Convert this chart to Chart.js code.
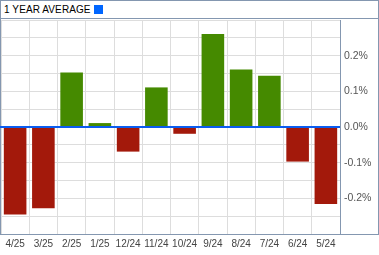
<!DOCTYPE html>
<html>
<head>
<meta charset="utf-8">
<script src="https://cdn.jsdelivr.net/npm/chart.js@4/dist/chart.umd.min.js"></script>
<style>
  body { margin: 0; background: #fff; }
  #wrap { position: relative; width: 379px; height: 255px; font-family: "Liberation Sans", Arial, sans-serif; }
  #box { position: absolute; left: 0; top: 0; width: 377px; height: 233px; border: 1px solid #8497b0; box-sizing: content-box; }
  #head { position: absolute; left: 0; top: 0; width: 379px; height: 19px; border-bottom: 1px solid #8497b0; box-sizing: border-box; }
  #title { position: absolute; left: 4px; top: 4px; font-size: 10px; color: #000; white-space: nowrap; letter-spacing: 0.1px; }
  #title span { display: inline-block; width: 9px; height: 9px; background: #0066ff; margin-left: 3px; vertical-align: -1px; }
  canvas { position: absolute; left: 0; top: 0; }
</style>
</head>
<body>
<div id="wrap">
  <div id="box"></div>
  <div id="head"><div id="title">1 YEAR AVERAGE<span></span></div></div>
  <canvas id="myChart" width="379" height="255"></canvas>
</div>
<script>
// monthly values, percent
const months = ["4/25", "3/25", "2/25", "1/25", "12/24", "11/24", "10/24", "9/24", "8/24", "7/24", "6/24", "5/24"];
const averages = [-0.245, -0.228, 0.153, 0.011, -0.069, 0.111, -0.019, 0.261, 0.161, 0.144, -0.097, -0.216];
const barColors = averages.map(v => v >= 0 ? "#458a00" : "#a3190b");

const zeroLine = {
  id: "zeroLine",
  afterDatasetsDraw(chart) {
    const y = chart.scales.y.getPixelForValue(0);
    const ctx = chart.ctx;
    ctx.save();
    ctx.strokeStyle = "#0a5cf0";
    ctx.lineWidth = 2;
    ctx.beginPath();
    ctx.moveTo(chart.chartArea.left - 1, y);
    ctx.lineTo(chart.chartArea.right, y);
    ctx.stroke();
    ctx.restore();
  }
};

new Chart(document.getElementById("myChart"), {
  type: "bar",
  data: {
    labels: months,
    datasets: [
      {
        data: averages,
        backgroundColor: barColors,
        barPercentage: 0.8,
        categoryPercentage: 1
      }
    ]
  },
  options: {
    responsive: false,
    animation: false,
    layout: { padding: { top: 20, left: 1 } },
    plugins: { legend: { display: false }, tooltip: { enabled: false } },
    scales: {
      x: {
        grid: { color: "#dddddd", offset: true, drawTicks: false },
        border: { color: "#8497b0" },
        ticks: { color: "#444", font: { family: "Liberation Sans", size: 10 }, padding: 4, maxRotation: 0, autoSkip: false },
        afterFit(s) { s.height = 21; }
      },
      y: {
        position: "right",
        min: -0.3,
        max: 0.3,
        grid: { color: "#dddddd", drawTicks: false },
        border: { color: "#8497b0" },
        ticks: {
          stepSize: 0.05,
          color: "#555",
          font: { family: "Liberation Sans", size: 10.5 },
          padding: 4,
          callback(v) {
            const k = Math.round(v * 100);
            if (k % 10 !== 0 || Math.abs(k) >= 30) return "";
            return (k / 100).toFixed(1) + "%";
          }
        },
        afterFit(s) { s.width = 39; }
      }
    }
  },
  plugins: [zeroLine]
});
</script>
</body>
</html>
